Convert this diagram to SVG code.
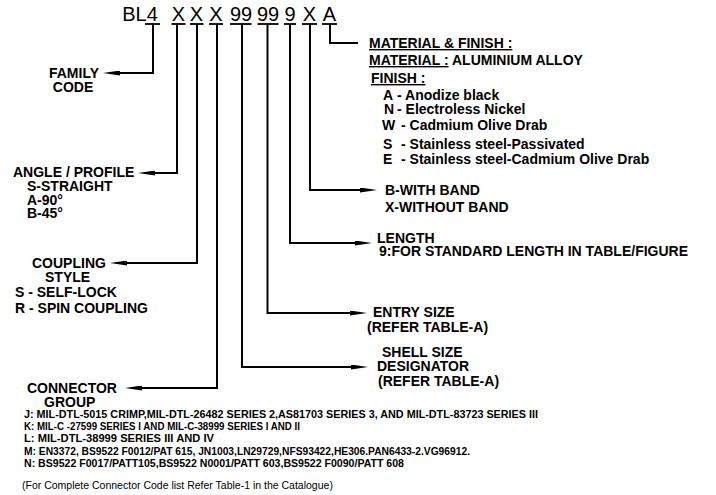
<svg xmlns="http://www.w3.org/2000/svg" width="716" height="495" viewBox="0 0 716 495">
<style>
text{font-family:"Liberation Sans",Arial,sans-serif;fill:#000}
.code{font-size:20px;text-anchor:middle}
.b{font-size:14px;font-weight:bold}
.m{text-anchor:middle}
.u{text-decoration:underline}
.s{font-size:10px;font-weight:bold}
.r{font-size:10.5px}
.ln{fill:none;stroke:#000;stroke-width:2}
.ul{stroke:#000;stroke-width:1.8}
</style>
<defs>
<marker id="ah" viewBox="0 0 17 5" refX="0" refY="2.5" markerWidth="17" markerHeight="5" markerUnits="userSpaceOnUse" orient="auto">
<path d="M0,0 L17,2.5 L0,5 z" fill="#000"/>
</marker>
</defs>
<rect width="716" height="495" fill="#fff"/>
<g id="code">
<text class="code" x="140" y="21">BL4</text>
<text class="code" x="178.5" y="21">X</text>
<text class="code" x="196.5" y="21">X</text>
<text class="code" x="216" y="21">X</text>
<text class="code" x="241" y="21">99</text>
<text class="code" x="268" y="21">99</text>
<text class="code" x="290" y="21">9</text>
<text class="code" x="309.5" y="21">X</text>
<text class="code" x="329.5" y="21">A</text>
<line class="ul" x1="145" y1="24" x2="160" y2="24"/>
<line class="ul" x1="171.5" y1="24" x2="185.5" y2="24"/>
<line class="ul" x1="190" y1="24" x2="203.5" y2="24"/>
<line class="ul" x1="209" y1="24" x2="223" y2="24"/>
<line class="ul" x1="230" y1="24" x2="251.5" y2="24"/>
<line class="ul" x1="257.5" y1="24" x2="278.5" y2="24"/>
<line class="ul" x1="284" y1="24" x2="296" y2="24"/>
<line class="ul" x1="302" y1="24" x2="317" y2="24"/>
<line class="ul" x1="322" y1="24" x2="337" y2="24"/>
</g>
<g id="connectors">
<path class="ln" d="M153,24 V73 H120" marker-end="url(#ah)"/>
<path class="ln" d="M177,24 V173 H155" marker-end="url(#ah)"/>
<path class="ln" d="M197,24 V263 H127" marker-end="url(#ah)"/>
<path class="ln" d="M217,24 V388 H142" marker-end="url(#ah)"/>
<path class="ln" d="M242,24 V367 H351" marker-end="url(#ah)"/>
<path class="ln" d="M267.5,24 V313 H350" marker-end="url(#ah)"/>
<path class="ln" d="M290,24 V243 H355" marker-end="url(#ah)"/>
<path class="ln" d="M310,24 V190 H360" marker-end="url(#ah)"/>
<path class="ln" d="M330,24 V43 H358"/>
</g>
<g id="family">
<text class="b m" x="74" y="78">FAMILY</text>
<text class="b m" x="73" y="92">CODE</text>
</g>
<g id="angle">
<text class="b" x="13" y="177">ANGLE / PROFILE</text>
<text class="b" x="27" y="191">S-STRAIGHT</text>
<text class="b" x="27" y="204.5">A-90°</text>
<text class="b" x="27" y="218">B-45°</text>
</g>
<g id="coupling">
<text class="b" x="32" y="268">COUPLING</text>
<text class="b" x="45" y="282">STYLE</text>
<text class="b" x="15" y="297">S - SELF-LOCK</text>
<text class="b" x="15" y="313">R - SPIN COUPLING</text>
</g>
<g id="connector-group">
<text class="b" x="27" y="393">CONNECTOR</text>
<text class="b" x="44" y="407">GROUP</text>
<text class="s" x="24" y="417.5" textLength="514" lengthAdjust="spacingAndGlyphs">J:  MIL-DTL-5015 CRIMP,MIL-DTL-26482 SERIES 2,AS81703 SERIES 3, AND MIL-DTL-83723 SERIES III</text>
<text class="s" x="24" y="430" textLength="276" lengthAdjust="spacingAndGlyphs">K: MIL-C -27599 SERIES I AND MIL-C-38999 SERIES I AND II</text>
<text class="s" x="24" y="442" textLength="190" lengthAdjust="spacingAndGlyphs">L: MIL-DTL-38999 SERIES III AND IV</text>
<text class="s" x="24" y="454.5" textLength="446" lengthAdjust="spacingAndGlyphs">M: EN3372, BS9522 F0012/PAT 615, JN1003,LN29729,NFS93422,HE306.PAN6433-2.VG96912.</text>
<text class="s" x="24" y="467" textLength="380" lengthAdjust="spacingAndGlyphs">N: BS9522 F0017/PATT105,BS9522 N0001/PATT 603,BS9522 F0090/PATT 608</text>
<text class="r" x="22" y="489">(For Complete Connector Code list Refer Table-1 in the Catalogue)</text>
</g>
<g id="material">
<text class="b u" x="369" y="48">MATERIAL &amp; FINISH :</text>
<text class="b" x="369" y="65"><tspan class="u">MATERIAL :</tspan> ALUMINIUM ALLOY</text>
<text class="b u" x="371" y="83">FINISH :</text>
<text class="b" x="383" y="100">A<tspan x="397">- Anodize black</tspan></text>
<text class="b" x="384" y="114">N<tspan x="397">- Electroless Nickel</tspan></text>
<text class="b" x="382" y="130">W<tspan x="401">- Cadmium Olive Drab</tspan></text>
<text class="b" x="383" y="149">S<tspan x="401">- Stainless steel-Passivated</tspan></text>
<text class="b" x="383" y="164">E<tspan x="401">- Stainless steel-Cadmium Olive Drab</tspan></text>
</g>
<g id="band">
<text class="b" x="385" y="195">B-WITH BAND</text>
<text class="b" x="385" y="212">X-WITHOUT BAND</text>
</g>
<g id="length">
<text class="b" x="377" y="242.5">LENGTH</text>
<text class="b" x="379" y="256">9:FOR STANDARD LENGTH IN TABLE/FIGURE</text>
</g>
<g id="entry-size">
<text class="b" x="373" y="317">ENTRY SIZE</text>
<text class="b" x="367" y="332">(REFER TABLE-A)</text>
</g>
<g id="shell-size">
<text class="b" x="382" y="357">SHELL SIZE</text>
<text class="b" x="377" y="371">DESIGNATOR</text>
<text class="b" x="378" y="386">(REFER TABLE-A)</text>
</g>
</svg>
